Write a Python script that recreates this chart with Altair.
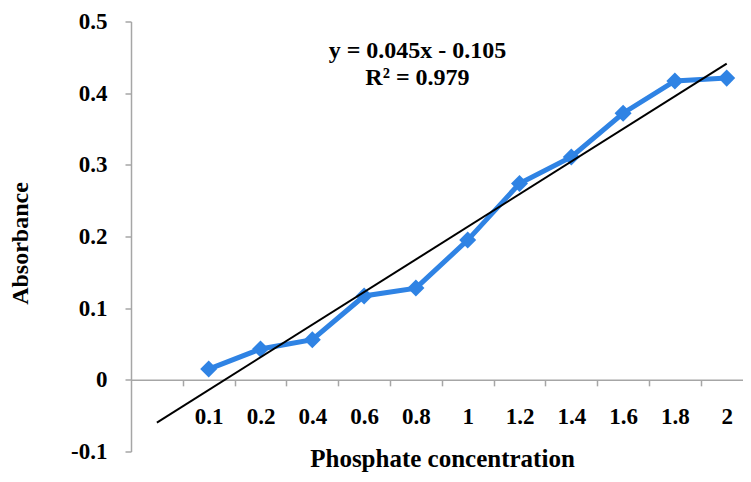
import altair as alt
import pandas as pd

# ---- data ----
conc_labels = ["0.1", "0.2", "0.4", "0.6", "0.8", "1", "1.2", "1.4", "1.6", "1.8", "2"]
absorbance = [0.015, 0.043, 0.056, 0.117, 0.128, 0.195, 0.274, 0.311, 0.372, 0.417, 0.421]
# Excel category axis had one leading empty category -> data sit at positions 2..12
positions = list(range(2, 2 + len(conc_labels)))
trend_extent = [1, 12]
eq_text = ["y = 0.045x - 0.105", "R\u00b2 = 0.979"]
eq_x = [6.03, 6.03]
eq_y = [0.449, 0.411]

y_ticks = [-0.1, 0.0, 0.1, 0.2, 0.3, 0.4, 0.5]
x_bounds = [p - 0.5 for p in positions]  # category boundaries for tick marks

df = pd.DataFrame({"pos": positions, "label": conc_labels, "abs": absorbance})
ann = pd.DataFrame({"x": eq_x, "y": eq_y, "t": eq_text})

# ---- styling ----
BLUE = "#2f83e4"
AXIS_GRAY = "#a6a6a6"
FONT = "Liberation Serif"
W, H = 612, 430
PX_PER_CAT = 51.8
x_max = 0.5 + W / PX_PER_CAT

label_arr = "[" + ",".join("'%s'" % l for l in conc_labels) + "]"

x_scale = alt.Scale(domain=[0.5, x_max], nice=False, zero=False)
y_scale = alt.Scale(domain=[-0.1, 0.5], nice=False, zero=False)

x_axis = alt.Axis(
    values=x_bounds,
    labelExpr=label_arr + "[datum.value - 1.5]",
    labelOffset=PX_PER_CAT / 2,
    labelFlush=False,
    labelOverlap=False,
    offset=-(0.1 / 0.6) * H,
    grid=False,
    domainColor=AXIS_GRAY,
    domainWidth=1.5,
    tickColor=AXIS_GRAY,
    tickWidth=1.5,
    tickSize=6,
    labelPadding=20,
    labelFont=FONT,
    labelFontSize=23,
    labelFontWeight="bold",
    labelColor="black",
    title="Phosphate concentration",
    titleFont=FONT,
    titleFontSize=25,
    titleFontWeight="bold",
    titleColor="black",
    titleBaseline="alphabetic",
    titleY=87,
    titleX=311,
)

y_axis = alt.Axis(
    values=y_ticks,
    labelExpr="'' + round(datum.value*10)/10",
    grid=False,
    domainColor=AXIS_GRAY,
    domainWidth=1.5,
    tickColor=AXIS_GRAY,
    tickWidth=1.5,
    tickSize=6,
    labelPadding=18,
    labelFont=FONT,
    labelFontSize=23,
    labelFontWeight="bold",
    labelColor="black",
    title="Absorbance",
    titleFont=FONT,
    titleFontSize=24,
    titleFontWeight="bold",
    titleColor="black",
    titleAngle=270,
    titleBaseline="alphabetic",
    titleAlign="center",
    titleX=-104,
    titleY=221.5,
)

xe = alt.X("pos:Q", scale=x_scale, axis=x_axis)
ye = alt.Y("abs:Q", scale=y_scale, axis=y_axis)

base = alt.Chart(df)

series_line = base.mark_line(color=BLUE, strokeWidth=5).encode(x=xe, y=ye)
series_pts = base.mark_point(shape="diamond", filled=True, size=290, color=BLUE, opacity=1).encode(x=xe, y=ye)
trend = (
    base.transform_regression("pos", "abs", extent=trend_extent)
    .mark_line(color="black", strokeWidth=2)
    .encode(x=xe, y=ye)
)
eq = (
    alt.Chart(ann)
    .mark_text(font=FONT, fontSize=24, fontWeight="bold", color="black", align="center", baseline="alphabetic")
    .encode(x=alt.X("x:Q", scale=x_scale), y=alt.Y("y:Q", scale=y_scale), text="t:N")
)

chart = (
    alt.layer(series_line, series_pts, trend, eq)
    .properties(
        width=W,
        height=H,
        autosize=alt.AutoSizeParams(type="none"),
        padding={"left": 123, "top": 13.5, "right": 0, "bottom": 22},
        background="white",
    )
    .configure_view(stroke=None)
)

chart.save("out.html", embed_options={"renderer": "svg", "actions": False})
